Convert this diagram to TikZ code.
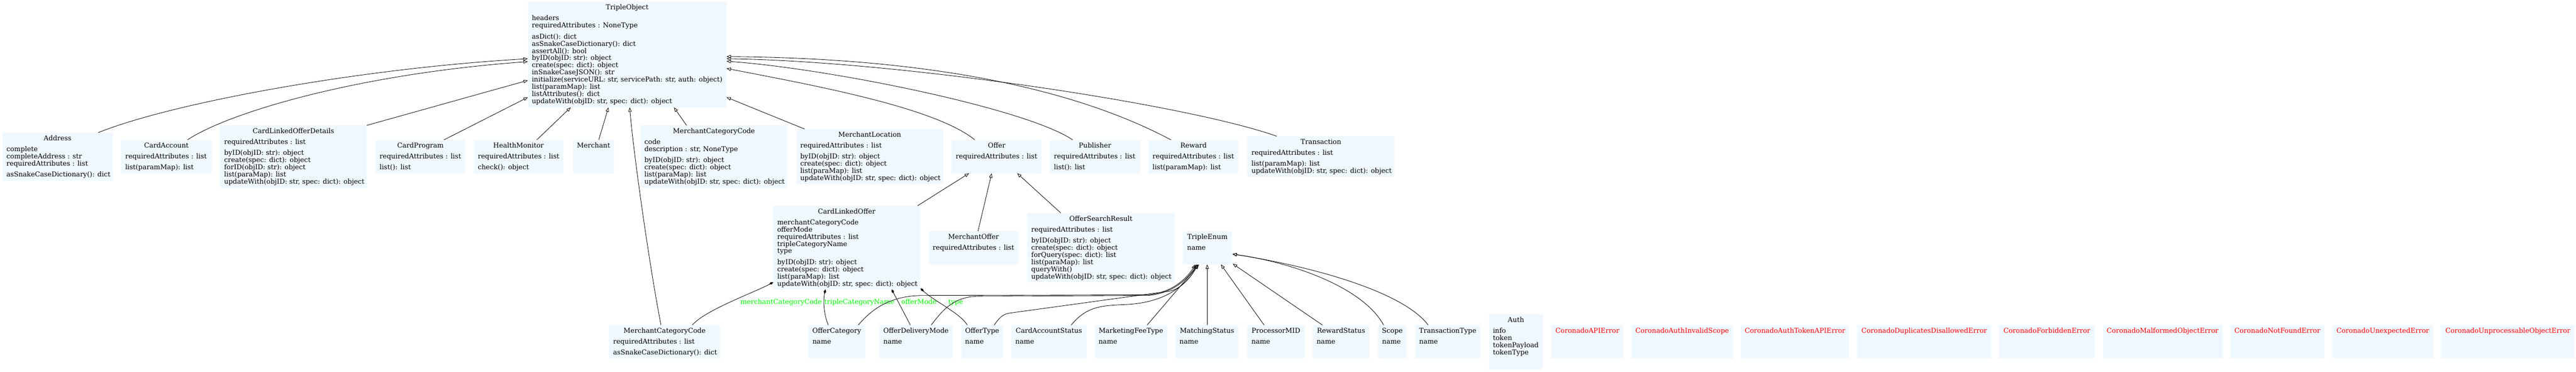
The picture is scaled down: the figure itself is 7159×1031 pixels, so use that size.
\documentclass[tikz,border=0pt]{standalone}
\usepackage{fontspec}
\setmainfont{DejaVu Serif}
\usetikzlibrary{arrows.meta,calc}
\definecolor{boxfill}{HTML}{F0F8FF}
\definecolor{lblgreen}{HTML}{00FF00}
\definecolor{errred}{HTML}{FF0000}
\newcommand\umlfont{\fontsize{18.7}{20}\selectfont}
\newcommand\Tline[1]{\hbox{#1}}
\newcommand\secgap{\vskip10.5pt}
\tikzset{
  box/.style={fill=boxfill, inner sep=0pt, outer sep=0pt, anchor=north west},
  txt/.style={inner sep=0pt, outer sep=0pt, font=\umlfont},
  lbl/.style={txt, text=lblgreen, anchor=base},
  inh/.style={draw, line width=1.2pt, -{Triangle[open,length=12pt,width=9pt]}},
  comp/.style={draw, line width=1.2pt, {Diamond[length=13pt,width=7pt]}-},
}
% [colour]{name}{L}{T}{R}{B}{title}
\newcommand\clsbox[7][black]{%
  \node[box, minimum width={(#5-#3)*1pt}, minimum height={(#6-#4)*1pt}] (#2) at (#3,#4) {};
  \node[txt, anchor=base, text=#1] (#2-t) at ({(#3+#5)/2},{#4+22}) {#7};}
% {name}{L}{T}{lines}
\newcommand\clsbody[4]{%
  \node[txt, anchor=base west] (#1-b) at ({#2+11},{#3+52}) {\vtop{\baselineskip=20pt\lineskiplimit=-100pt\lineskip=0pt #4}};}
\begin{document}
\begin{tikzpicture}[x=1pt,y=-1pt]
\fill[white] (0,0) rectangle (7159,1031);
\useasboundingbox (0,0) rectangle (7159,1031);

% ---------- row 1
\clsbox{TO}{1467}{5}{2019}{298}{TripleObject}
\clsbody{TO}{1467}{5}{\Tline{headers}\Tline{requiredAttributes : NoneType}\secgap
 \Tline{asDict(): dict}\Tline{asSnakeCaseDictionary(): dict}\Tline{assertAll(): bool}
 \Tline{byID(objID: str): object}\Tline{create(spec: dict): object}\Tline{inSnakeCaseJSON(): str}
 \Tline{initialize(serviceURL: str, servicePath: str, auth: object)}\Tline{list(paramMap): list}
 \Tline{listAttributes(): dict}\Tline{updateWith(objID: str, spec: dict): object}}

% ---------- row 2
\clsbox{Address}{7}{368}{313}{501}{Address}
\clsbody{Address}{7}{368}{\Tline{complete}\Tline{completeAddress : str}\Tline{requiredAttributes : list}\secgap
 \Tline{asSnakeCaseDictionary(): dict}}
\clsbox{CardAccount}{337}{388}{588}{481}{CardAccount}
\clsbody{CardAccount}{337}{388}{\Tline{requiredAttributes : list}\secgap\Tline{list(paramMap): list}}
\clsbox{CLOD}{612}{348}{1019}{521}{CardLinkedOfferDetails}
\clsbody{CLOD}{612}{348}{\Tline{requiredAttributes : list}\secgap
 \Tline{byID(objID: str): object}\Tline{create(spec: dict): object}\Tline{forID(objID: str): object}
 \Tline{list(paraMap): list}\Tline{updateWith(objID: str, spec: dict): object}}
\clsbox{CardProgram}{1044}{388}{1293}{481}{CardProgram}
\clsbody{CardProgram}{1044}{388}{\Tline{requiredAttributes : list}\secgap\Tline{list(): list}}
\clsbox{HealthMonitor}{1317}{388}{1565}{481}{HealthMonitor}
\clsbody{HealthMonitor}{1317}{388}{\Tline{requiredAttributes : list}\secgap\Tline{check(): object}}
\clsbox{Merchant}{1592}{388}{1707}{481}{Merchant}
\clsbox{MCC2}{1780}{348}{2188}{521}{MerchantCategoryCode}
\clsbody{MCC2}{1780}{348}{\Tline{code}\Tline{description : str, NoneType}\secgap
 \Tline{byID(objID: str): object}\Tline{create(spec: dict): object}
 \Tline{list(paraMap): list}\Tline{updateWith(objID: str, spec: dict): object}}
\clsbox{MerchantLocation}{2213}{358}{2621}{511}{MerchantLocation}
\clsbody{MerchantLocation}{2213}{358}{\Tline{requiredAttributes : list}\secgap
 \Tline{byID(objID: str): object}\Tline{create(spec: dict): object}
 \Tline{list(paraMap): list}\Tline{updateWith(objID: str, spec: dict): object}}
\clsbox{Offer}{2645}{388}{2895}{481}{Offer}
\clsbody{Offer}{2645}{388}{\Tline{requiredAttributes : list}}
\clsbox{Publisher}{2918}{388}{3168}{481}{Publisher}
\clsbody{Publisher}{2918}{388}{\Tline{requiredAttributes : list}\secgap\Tline{list(): list}}
\clsbox{Reward}{3192}{388}{3442}{481}{Reward}
\clsbody{Reward}{3192}{388}{\Tline{requiredAttributes : list}\secgap\Tline{list(paramMap): list}}
\clsbox{Transaction}{3467}{378}{3875}{491}{Transaction}
\clsbody{Transaction}{3467}{378}{\Tline{requiredAttributes : list}\secgap\Tline{list(paramMap): list}
 \Tline{updateWith(objID: str, spec: dict): object}}

% ---------- row 3
\clsbox{CLO}{2149}{571}{2557}{803}{CardLinkedOffer}
\clsbody{CLO}{2149}{571}{\Tline{merchantCategoryCode}\Tline{offerMode}\Tline{requiredAttributes : list}
 \Tline{tripleCategoryName}\Tline{type}\secgap
 \Tline{byID(objID: str): object}\Tline{create(spec: dict): object}
 \Tline{list(paraMap): list}\Tline{updateWith(objID: str, spec: dict): object}}
\clsbox{MerchantOffer}{2581}{641}{2830}{734}{MerchantOffer}
\clsbody{MerchantOffer}{2581}{641}{\Tline{requiredAttributes : list}}
\clsbox{OSR}{2855}{591}{3264}{783}{OfferSearchResult}
\clsbody{OSR}{2855}{591}{\Tline{requiredAttributes : list}\secgap
 \Tline{byID(objID: str): object}\Tline{create(spec: dict): object}\Tline{forQuery(spec: dict): list}
 \Tline{list(paraMap): list}\Tline{queryWith()}\Tline{updateWith(objID: str, spec: dict): object}}
\clsbox{TripleEnum}{3288}{641}{3423}{734}{TripleEnum}
\clsbody{TripleEnum}{3288}{641}{\Tline{name}}

% ---------- row 4
\clsbox{MCC4}{1693}{902}{2001}{995}{MerchantCategoryCode}
\clsbody{MCC4}{1693}{902}{\Tline{requiredAttributes : list}\secgap\Tline{asSnakeCaseDictionary(): dict}}
\clsbox{OfferCategory}{2247}{902}{2404}{995}{OfferCategory}
\clsbody{OfferCategory}{2247}{902}{\Tline{name}}
\clsbox{OfferDeliveryMode}{2444}{902}{2647}{995}{OfferDeliveryMode}
\clsbody{OfferDeliveryMode}{2444}{902}{\Tline{name}}
\clsbox{OfferType}{2671}{902}{2788}{995}{OfferType}
\clsbody{OfferType}{2671}{902}{\Tline{name}}
\clsbox{CardAccountStatus}{2811}{902}{3019}{995}{CardAccountStatus}
\clsbody{CardAccountStatus}{2811}{902}{\Tline{name}}
\clsbox{MarketingFeeType}{3042}{902}{3244}{995}{MarketingFeeType}
\clsbody{MarketingFeeType}{3042}{902}{\Tline{name}}
\clsbox{MatchingStatus}{3267}{902}{3442}{995}{MatchingStatus}
\clsbody{MatchingStatus}{3267}{902}{\Tline{name}}
\clsbox{ProcessorMID}{3467}{902}{3625}{995}{ProcessorMID}
\clsbody{ProcessorMID}{3467}{902}{\Tline{name}}
\clsbox{RewardStatus}{3648}{902}{3806}{995}{RewardStatus}
\clsbody{RewardStatus}{3648}{902}{\Tline{name}}
\clsbox{Scope}{3830}{902}{3909}{995}{Scope}
\clsbody{Scope}{3830}{902}{\Tline{name}}
\clsbox{TransactionType}{3933}{902}{4114}{995}{TransactionType}
\clsbody{TransactionType}{3933}{902}{\Tline{name}}
\clsbox{Auth}{4138}{872}{4288}{1025}{Auth}
\clsbody{Auth}{4138}{872}{\Tline{info}\Tline{token}\Tline{tokenPayload}\Tline{tokenType}}
\clsbox[errred]{E1}{4311}{902}{4512}{995}{CoronadoAPIError}
\clsbox[errred]{E2}{4534}{902}{4816}{995}{CoronadoAuthInvalidScope}
\clsbox[errred]{E3}{4838}{902}{5139}{995}{CoronadoAuthTokenAPIError}
\clsbox[errred]{E4}{5161}{902}{5534}{995}{CoronadoDuplicatesDisallowedError}
\clsbox[errred]{E5}{5556}{902}{5821}{995}{CoronadoForbiddenError}
\clsbox[errred]{E6}{5844}{902}{6176}{995}{CoronadoMalformedObjectError}
\clsbox[errred]{E7}{6198}{902}{6460}{995}{CoronadoNotFoundError}
\clsbox[errred]{E8}{6482}{902}{6762}{995}{CoronadoUnexpectedError}
\clsbox[errred]{E9}{6784}{902}{7155}{995}{CoronadoUnprocessableObjectError}

% ---------- inheritance to TripleObject
\draw[inh] ($(Address.north west)+(266,0)$) .. controls (480,285) and (1000,190) .. ($(TO.north west)+(0,158)$);
\draw[inh] ($(CardAccount.north west)+(184,0)$) .. controls (640,310) and (1000,205) .. ($(TO.north west)+(0,166)$);
\draw[inh] (CLOD.north east) -- ($(TO.north west)+(0,218)$);
\draw[inh] ($(CardProgram.north west)+(190,0)$) -- ($(TO.north west)+(0,265)$);
\draw[inh] ($(HealthMonitor.north west)+(175,0)$) -- ($(TO.north west)+(119,293)$);
\draw[inh] ($(Merchant.north west)+(72,0)$) -- ($(TO.north west)+(224,293)$);
\draw[inh] ($(MCC2.north west)+(128,0)$) -- ($(TO.north west)+(406,293)$);
\draw[inh] ($(MCC4.north west)+(144,0)$) .. controls (1805,740) and (1760,420) .. ($(TO.north west)+(283,293)$);
\draw[inh] ($(MerchantLocation.north west)+(23,0)$) -- ($(TO.north east)+(0,265)$);
\draw[inh] ($(Offer.north west)+(64,0)$) .. controls (2600,300) and (2280,240) .. ($(TO.north east)+(0,185)$);
\draw[inh] ($(Publisher.north west)+(63,0)$) .. controls (2850,300) and (2300,190) .. ($(TO.north east)+(0,165)$);
\draw[inh] ($(Reward.north west)+(62,0)$) .. controls (2900,200) and (2400,160) .. ($(TO.north east)+(0,152)$);
\draw[inh] ($(Transaction.north west)+(81,0)$) .. controls (3300,290) and (2500,170) .. ($(TO.north east)+(0,158)$);

% ---------- inheritance to Offer
\draw[inh] ($(CLO.north west)+(401,0)$) -- ($(Offer.north west)+(48,93)$);
\draw[inh] ($(MerchantOffer.north west)+(137,0)$) -- ($(Offer.north west)+(111,93)$);
\draw[inh] ($(OSR.north west)+(93,0)$) -- ($(Offer.north west)+(182,93)$);

% ---------- compositions from CardLinkedOffer
\draw[comp] ($(CLO.north west)+(0,212)$) .. controls (2100,810) and (1960,860) .. ($(MCC4.north west)+(231,0)$);
\draw[comp] ($(CLO.north west)+(145,232)$) .. controls (2286,840) and (2292,880) .. ($(OfferCategory.north west)+(55,0)$);
\draw[comp] ($(CLO.north west)+(329,232)$) -- ($(OfferDeliveryMode.north west)+(86,0)$);
\draw[comp] ($(CLO.north west)+(409,229)$) .. controls (2595,835) and (2670,870) .. ($(OfferType.north west)+(17,0)$);
\node[lbl] (lmcc) at (2171,844.5) {merchantCategoryCode};
\node[lbl] (ltcn) at (2388,844.5) {tripleCategoryName};
\node[lbl] (lom) at (2554,844.5) {offerMode};
\node[lbl] (ltype) at (2656,844.5) {type};

% ---------- inheritance to TripleEnum
\draw[inh] ($(OfferCategory.north west)+(138,0)$) .. controls (2430,850) and (2480,822) .. (2560,820) -- (3190,818) .. controls (3260,812) and (3300,770) .. ($(TripleEnum.north west)+(34,93)$);
\draw[inh] ($(OfferDeliveryMode.north west)+(144,0)$) .. controls (2620,860) and (2650,823) .. (2720,822) -- (3190,820) .. controls (3262,814) and (3302,772) .. ($(TripleEnum.north west)+(38,93)$);
\draw[inh] ($(OfferType.north west)+(92,0)$) .. controls (2775,885) and (2785,872) .. (2805,869) -- (3250,808) .. controls (3280,803) and (3310,770) .. ($(TripleEnum.north west)+(40,93)$);
\draw[inh] ($(CardAccountStatus.north west)+(166,0)$) .. controls (3020,850) and (3060,848) .. (3130,845) .. controls (3230,840) and (3290,800) .. ($(TripleEnum.north west)+(42,93)$);
\draw[inh] ($(MarketingFeeType.north west)+(146,0)$) -- ($(TripleEnum.north west)+(44,93)$);
\draw[inh] ($(MatchingStatus.north west)+(88,0)$) -- ($(TripleEnum.north west)+(67,93)$);
\draw[inh] ($(ProcessorMID.north west)+(46,0)$) -- ($(TripleEnum.north west)+(105,93)$);
\draw[inh] ($(RewardStatus.north west)+(27,0)$) -- ($(TripleEnum.north west)+(138,91)$);
\draw[inh] ($(Scope.north west)+(15,0)$) .. controls (3790,800) and (3600,730) .. ($(TripleEnum.north west)+(137,64)$);
\draw[inh] ($(TransactionType.north west)+(36,0)$) .. controls (3900,810) and (3650,740) .. ($(TripleEnum.north west)+(137,64)$);
\end{tikzpicture}
\end{document}
